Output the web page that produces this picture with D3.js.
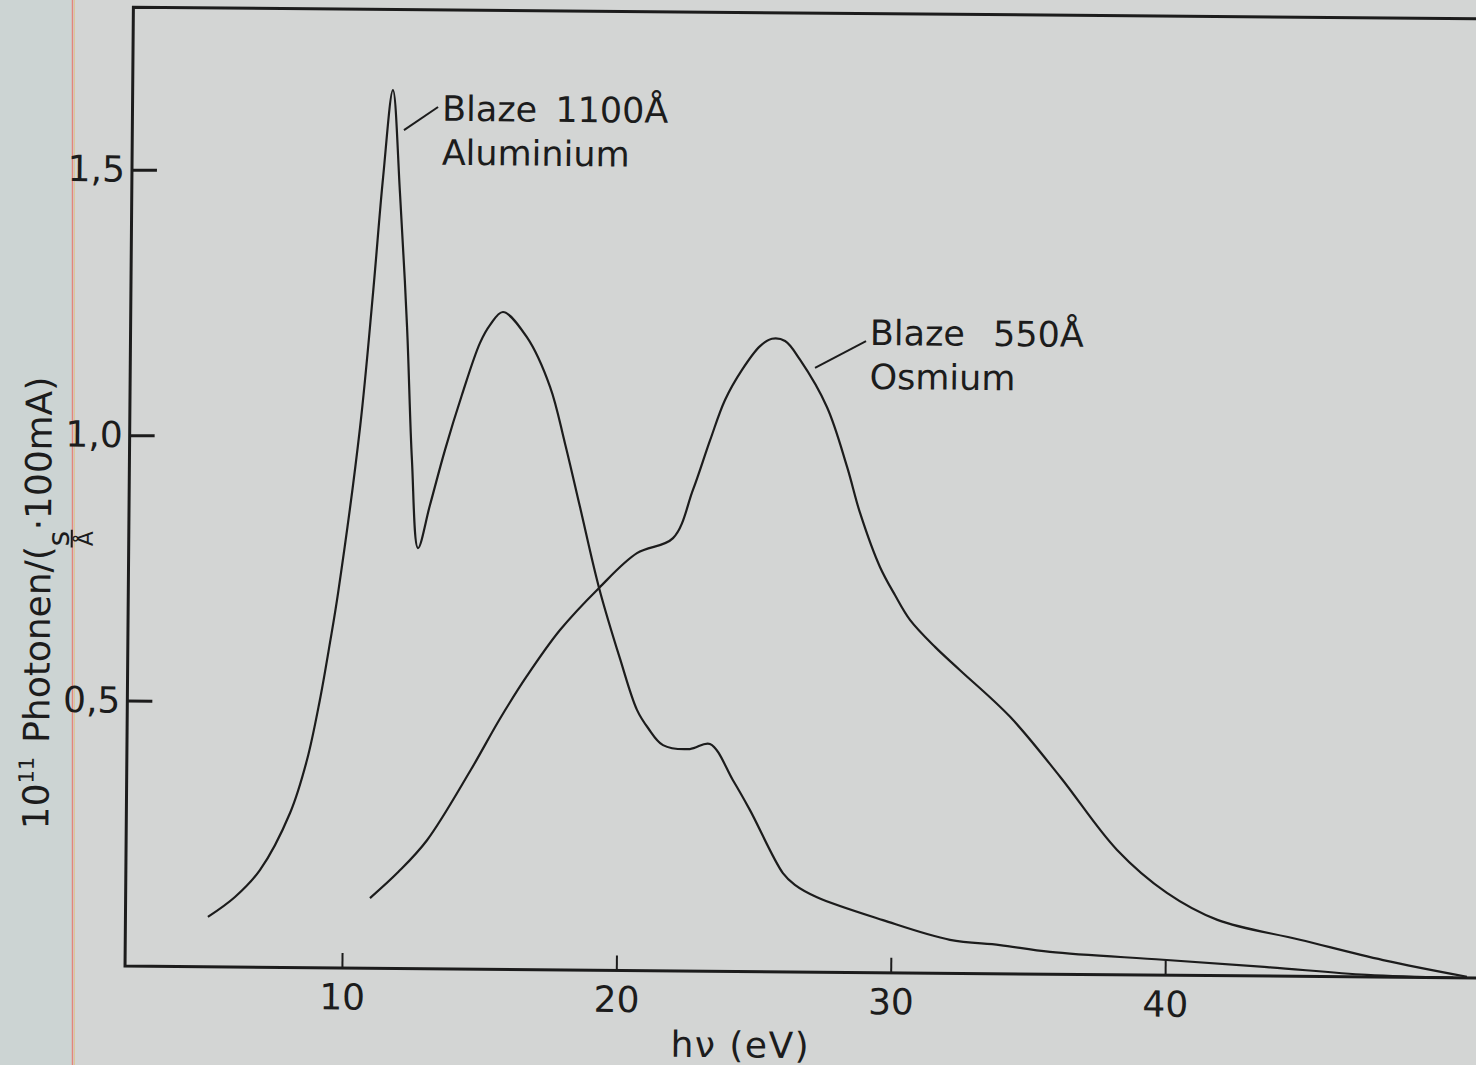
<!DOCTYPE html>
<html>
<head>
<meta charset="utf-8">
<script src="https://cdn.jsdelivr.net/npm/d3@7"></script>
<style>
  html, body { margin: 0; padding: 0; background: #d3d5d4; }
  svg { display: block; font-family: "DejaVu Sans", sans-serif; }
</style>
</head>
<body>
<svg id="chart" width="1476" height="1065"></svg>
<script>
// ---------- data ----------
// Blaze 1100 Å, Aluminium
const alEnergy = [5.10, 6.08, 6.98, 8.06, 8.66, 9.11, 9.46, 9.74, 10.49, 10.92, 11.25, 11.58, 11.87, 12.17, 12.39, 12.64,
  13.06, 13.59, 14.19, 14.83, 15.19, 15.66, 16.54, 17.40, 17.96, 18.53, 19.25, 20.03, 20.67, 21.08, 21.63, 22.61, 23.34,
  24.19, 24.82, 26.04, 26.48, 27.29, 29.70, 32.15, 33.97, 35.80, 39.92, 43.71, 47.35, 50.5];
const alIntensity = [0.094, 0.132, 0.183, 0.291, 0.391, 0.504, 0.612, 0.706, 1.019, 1.272, 1.490, 1.654, 1.460, 1.208, 0.958, 0.792,
  0.873, 0.977, 1.081, 1.179, 1.213, 1.238, 1.191, 1.098, 0.992, 0.872, 0.720, 0.588, 0.491, 0.457, 0.425, 0.418, 0.428,
  0.360, 0.304, 0.186, 0.164, 0.141, 0.099, 0.063, 0.054, 0.042, 0.029, 0.017, 0.004, 0.0];

// Blaze 550 Å, Osmium
const osEnergy = [11.0, 12.03, 13.06, 14.61, 15.68, 16.65, 17.84, 19.25, 20.62, 21.93, 22.64, 23.25, 23.78, 24.39, 25.04, 25.47, 25.95,
  26.50, 27.50, 28.25, 28.74, 29.48, 30.04, 30.59, 31.52, 32.43, 34.27, 36.11, 38.21, 40.04, 41.89, 44.90, 47.94, 51.0];
const osIntensity = [0.132, 0.182, 0.242, 0.373, 0.472, 0.553, 0.640, 0.720, 0.786, 0.815, 0.906, 1.000, 1.076, 1.133, 1.178, 1.192, 1.188,
  1.153, 1.064, 0.952, 0.865, 0.764, 0.711, 0.665, 0.614, 0.571, 0.484, 0.372, 0.235, 0.155, 0.105, 0.069, 0.032, 0.002];

const xTicks = [10, 20, 30, 40];
const yTicks = [0.5, 1.0, 1.5];
const yTickLabels = ["0,5", "1,0", "1,5"];

const annoBlaze = ["1100Å", "550Å"];
const annoMaterial = ["Aluminium", "Osmium"];
const annoEnergy = [13.38, 29.04];
const annoIntensity = [1.597, 1.182];
const leaderFromEnergy = [11.995, 27.05];
const leaderFromIntensity = [1.579, 1.138];
const leaderToEnergy = [13.23, 28.9];
const leaderToIntensity = [1.623, 1.189];

// ---------- drawing ----------
const ink = "#1c1c1c";
const svg = d3.select("#chart");

// paper background (scan)
svg.append("rect").attr("width", 1476).attr("height", 1065).attr("fill", "#d3d5d4");
svg.append("rect").attr("width", 72).attr("height", 1065).attr("fill", "#ccd4d3");
svg.append("line").attr("x1", 72.5).attr("x2", 72.5).attr("y1", 0).attr("y2", 1065)
  .attr("stroke", "#e2867c").attr("stroke-width", 1.5);
svg.append("line").attr("x1", 74.5).attr("x2", 74.5).attr("y1", 0).attr("y2", 1065)
  .attr("stroke", "#d9c99a").attr("stroke-width", 1);

// the scanned figure is very slightly rotated
const g = svg.append("g").attr("transform", "rotate(0.5,800,972)");

const x = d3.scaleLinear().domain([0, 50]).range([67.5, 1439.5]);
const y = d3.scaleLinear().domain([0, 1.5]).range([972, 175.5]);

const frameLeft = 125, frameTop = 13, frameRight = 1520;

// frame
g.append("path")
  .attr("d", `M${frameRight},${frameTop}H${frameLeft}V${y(0)}H${frameRight}`)
  .attr("fill", "none").attr("stroke", ink).attr("stroke-width", 3);

// y axis ticks (inward) + labels
const yAx = g.append("g").attr("transform", `translate(${frameLeft},0)`)
  .call(d3.axisLeft(y).tickValues(yTicks).tickSizeInner(-25).tickSizeOuter(0).tickPadding(7)
    .tickFormat((d, i) => yTickLabels[i]));
yAx.select(".domain").remove();
yAx.selectAll(".tick line").attr("stroke", ink).attr("stroke-width", 3);
yAx.selectAll(".tick text").attr("font-size", 36).attr("fill", ink)
  .attr("font-family", "DejaVu Sans, sans-serif");

// x axis ticks (inward) + labels
const xAx = g.append("g").attr("transform", `translate(0,${y(0)})`)
  .call(d3.axisBottom(x).tickValues(xTicks).tickSizeInner(-15).tickSizeOuter(0).tickPadding(16));
xAx.select(".domain").remove();
xAx.selectAll(".tick line").attr("stroke", ink).attr("stroke-width", 2);
xAx.selectAll(".tick text").attr("font-size", 36).attr("fill", ink)
  .attr("font-family", "DejaVu Sans, sans-serif");

// x axis title
g.append("text").attr("x", 741).attr("y", 1058).attr("text-anchor", "middle")
  .attr("font-size", 36).attr("fill", ink).attr("letter-spacing", 1.5).text("hν (eV)");

// y axis title (rotated)
const yl = g.append("g").attr("transform", "translate(47,836) rotate(-90)");
const yt = yl.append("text").attr("font-size", 36).attr("fill", ink);
yt.append("tspan").text("10");
yt.append("tspan").attr("font-size", 21).attr("dy", -15).text("11");
yt.append("tspan").attr("dx", 14).attr("dy", 15).text("Photonen/(");
yt.append("tspan").attr("font-size", 30).attr("dy", 18).text("s");
yt.append("tspan").attr("dy", -18).text("·100mA)");
const sIdx = "1011Photonen/(".length;
const sx0 = yt.node().getStartPositionOfChar(sIdx).x;
const sx1 = yt.node().getEndPositionOfChar(sIdx).x;
yl.append("line").attr("x1", sx0 - 1).attr("x2", sx1 + 1).attr("y1", 21).attr("y2", 21)
  .attr("stroke", ink).attr("stroke-width", 2);
yl.append("text").attr("x", (sx0 + sx1) / 2).attr("y", 42).attr("text-anchor", "middle")
  .attr("font-size", 22).attr("fill", ink).text("Å");

// curves
const line = d3.line().x(d => x(d[0])).y(d => y(d[1])).curve(d3.curveCatmullRom.alpha(0.5));
g.append("path").datum(d3.zip(alEnergy, alIntensity)).attr("d", line)
  .attr("fill", "none").attr("stroke", ink).attr("stroke-width", 2.2).attr("stroke-linejoin", "round");
g.append("path").datum(d3.zip(osEnergy, osIntensity)).attr("d", line)
  .attr("fill", "none").attr("stroke", ink).attr("stroke-width", 2.2).attr("stroke-linejoin", "round");

// annotations
const blazeGap = [18, 28];
annoMaterial.forEach((m, i) => {
  g.append("line")
    .attr("x1", x(leaderFromEnergy[i])).attr("y1", y(leaderFromIntensity[i]))
    .attr("x2", x(leaderToEnergy[i])).attr("y2", y(leaderToIntensity[i]))
    .attr("stroke", ink).attr("stroke-width", 2);
  const t = g.append("text").attr("x", x(annoEnergy[i])).attr("y", y(annoIntensity[i]))
    .attr("font-size", 35).attr("fill", ink);
  t.append("tspan").text("Blaze");
  t.append("tspan").attr("dx", blazeGap[i]).text(annoBlaze[i]);
  g.append("text").attr("x", x(annoEnergy[i])).attr("y", y(annoIntensity[i]) + 44)
    .attr("font-size", 35).attr("fill", ink).text(m);
});
</script>
</body>
</html>
